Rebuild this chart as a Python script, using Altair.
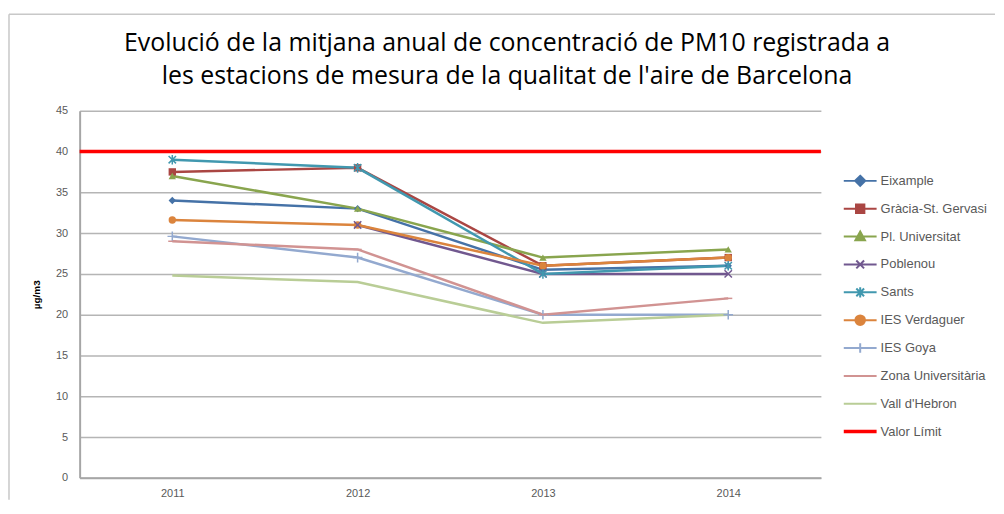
import json
import altair as alt
import pandas as pd

years = ["2011", "2012", "2013", "2014"]
series = ["Eixample", "Gràcia-St. Gervasi", "Pl. Universitat", "Poblenou", "Sants",
          "IES Verdaguer", "IES Goya", "Zona Universitària", "Vall d'Hebron", "Valor Límit"]
colors = ["#4572A7", "#AA4643", "#89A54E", "#71588F", "#4198AF",
          "#DB843D", "#93A9CF", "#D19392", "#B9CD96", "#FF0000"]

eixample = [34, 33, 25.5, 26]
gracia = [37.5, 38, 26, 27]
pl_univ = [37, 33, 27, 28]
poblenou = [None, 31, 25, 25]
sants = [39, 38, 25, 26]
verdaguer = [31.6, 31, 26, 27]
goya = [29.6, 27, 20, 20]
zona = [29, 28, 20, 22]
vall = [24.8, 24, 19, 20]
limit = [40]

station_values = [eixample, gracia, pl_univ, poblenou, sants, verdaguer, goya, zona, vall]

rows = []
for name, vals in zip(series[:9], station_values):
    for yr, v in zip(years, vals):
        if v is not None:
            rows.append({"series": name, "year": yr, "value": v})
df = pd.DataFrame(rows)
df_limit = pd.DataFrame({"series": ["Valor Límit"], "value": limit})

filled_series = ["Eixample", "Gràcia-St. Gervasi", "Pl. Universitat", "IES Verdaguer"]
open_series = ["Poblenou", "Sants", "IES Goya", "Zona Universitària"]
marker_series = filled_series + open_series

# marker shapes on the plot
markers = {
    "Eixample": "diamond",
    "Gràcia-St. Gervasi": "square",
    "Pl. Universitat": "triangle-up",
    "IES Verdaguer": "circle",
    "Poblenou": "M-1,-1L1,1M-1,1L1,-1",
    "Sants": "M-1,-1L1,1M-1,1L1,-1M0,-1.3L0,1.3",
    "IES Goya": "M-1.3,0L1.3,0M0,-1.3L0,1.3",
    "Zona Universitària": "M-1.1,0L1.1,0",
}
# legend symbols: line through marker
L = "M-5.5,0L5.5,0"
legend_paths = {
    "Eixample": L + "M0,-1.7L1.7,0L0,1.7L-1.7,0Z",
    "Gràcia-St. Gervasi": L + "M-1.4,-1.4L1.4,-1.4L1.4,1.4L-1.4,1.4Z",
    "Pl. Universitat": L + "M0,-1.7L1.6,1.2L-1.6,1.2Z",
    "Poblenou": L + "M-1.3,-1.3L1.3,1.3M-1.3,1.3L1.3,-1.3",
    "Sants": L + "M-1.3,-1.3L1.3,1.3M-1.3,1.3L1.3,-1.3M0,-1.7L0,1.7",
    "IES Verdaguer": L + "M-1.6,0A1.6,1.6,0,1,0,1.6,0A1.6,1.6,0,1,0,-1.6,0Z",
    "IES Goya": L + "M0,-1.6L0,1.6",
    "Zona Universitària": L,
    "Vall d'Hebron": L,
    "Valor Límit": L,
}

def case_expr(mapping, default):
    expr = json.dumps(default)
    for k, v in reversed(list(mapping.items())):
        expr = f"datum.value === {json.dumps(k)} ? {json.dumps(v)} : ({expr})"
    return expr

shape_expr = case_expr(legend_paths, L)
sw_expr = 'datum.value === "Valor Límit" ? 3.5 : 2'
col_expr = "scale('color', datum.value)"

color_scale = alt.Scale(domain=series, range=colors)
shape_scale = alt.Scale(domain=marker_series, range=[markers[s] for s in marker_series])

x_enc = alt.X("year:O", scale=alt.Scale(type="point", padding=0.5), title=None,
              axis=alt.Axis(labelAngle=0, labelColor="#595959", labelFontSize=11,
                            labelFont="Liberation Sans", labelPadding=10, ticks=False,
                            domainColor="#a6a6a6", domainWidth=2))
y_enc = alt.Y("value:Q", scale=alt.Scale(domain=[0, 45], nice=False), title="µg/m3",
              axis=alt.Axis(values=list(range(0, 46, 5)), labelColor="#595959", labelFontSize=11,
                            labelFont="Liberation Sans", labelPadding=12, ticks=False,
                            grid=True, gridColor="#b5b5b5", gridWidth=1.5,
                            domainColor="#a6a6a6", domainWidth=2,
                            titleFontSize=10, titleFontWeight="bold", titleColor="#000000",
                            titleFont="Liberation Sans", titlePadding=14))

legend = alt.Legend(
    orient="none", legendX=772, legendY=64, title=None,
    labelFont="Liberation Sans", labelFontSize=13, labelColor="#595959",
    symbolSize=36, symbolType={"expr": shape_expr},
    symbolFillColor={"expr": col_expr}, symbolStrokeColor={"expr": col_expr},
    symbolStrokeWidth={"expr": sw_expr}, symbolOpacity=1,
    labelOffset=14, rowPadding=9, symbolOffset=6, gridAlign="all",
)

# chart-area frame (left and top edges; the others run off the picture)
frame_left = alt.Chart(df_limit).mark_rule(stroke="#c8c8c8", strokeWidth=1.5).encode(
    x=alt.value(-71), y=alt.value(-97), y2=alt.value(391)
)
frame_top = alt.Chart(df_limit).mark_rule(stroke="#c8c8c8", strokeWidth=1.5).encode(
    x=alt.value(-71), x2=alt.value(920), y=alt.value(-97)
)

rule = alt.Chart(df_limit).mark_rule(strokeWidth=3.5).encode(
    y="value:Q",
    color=alt.Color("series:N", scale=color_scale, legend=None),
)

lines = alt.Chart(df).mark_line(strokeWidth=2.5).encode(
    x=x_enc, y=y_enc,
    color=alt.Color("series:N", scale=color_scale, legend=legend),
    detail="series:N",
)

points_filled = alt.Chart(df).transform_filter(
    alt.FieldOneOfPredicate(field="series", oneOf=filled_series)
).mark_point(filled=True, size=55, opacity=1).encode(
    x=x_enc, y=y_enc,
    color=alt.Color("series:N", scale=color_scale, legend=None),
    shape=alt.Shape("series:N", scale=shape_scale, legend=None),
)

points_open = alt.Chart(df).transform_filter(
    alt.FieldOneOfPredicate(field="series", oneOf=open_series)
).mark_point(filled=False, size=55, strokeWidth=1.5, opacity=1).encode(
    x=x_enc, y=y_enc,
    color=alt.Color("series:N", scale=color_scale, legend=None),
    shape=alt.Shape("series:N", scale=shape_scale, legend=None),
)

chart = alt.layer(frame_left, frame_top, lines, rule, points_filled, points_open).properties(
    width=745, height=369,
    autosize=alt.AutoSizeParams(type="none"),
    padding={"left": 72, "top": 102, "right": 176, "bottom": 22},
    title=alt.TitleParams(
        text=["Evolució de la mitjana anual de concentració de PM10 registrada a",
              "les estacions de mesura de la qualitat de l'aire de Barcelona"],
        font="Open Sans", fontSize=25, fontWeight="normal", color="#000000",
        anchor="middle", dx=57, offset=-76, lineHeight=33,
    ),
).configure_view(stroke=None)

chart.save("out.html", embed_options={"renderer": "svg", "actions": False})
